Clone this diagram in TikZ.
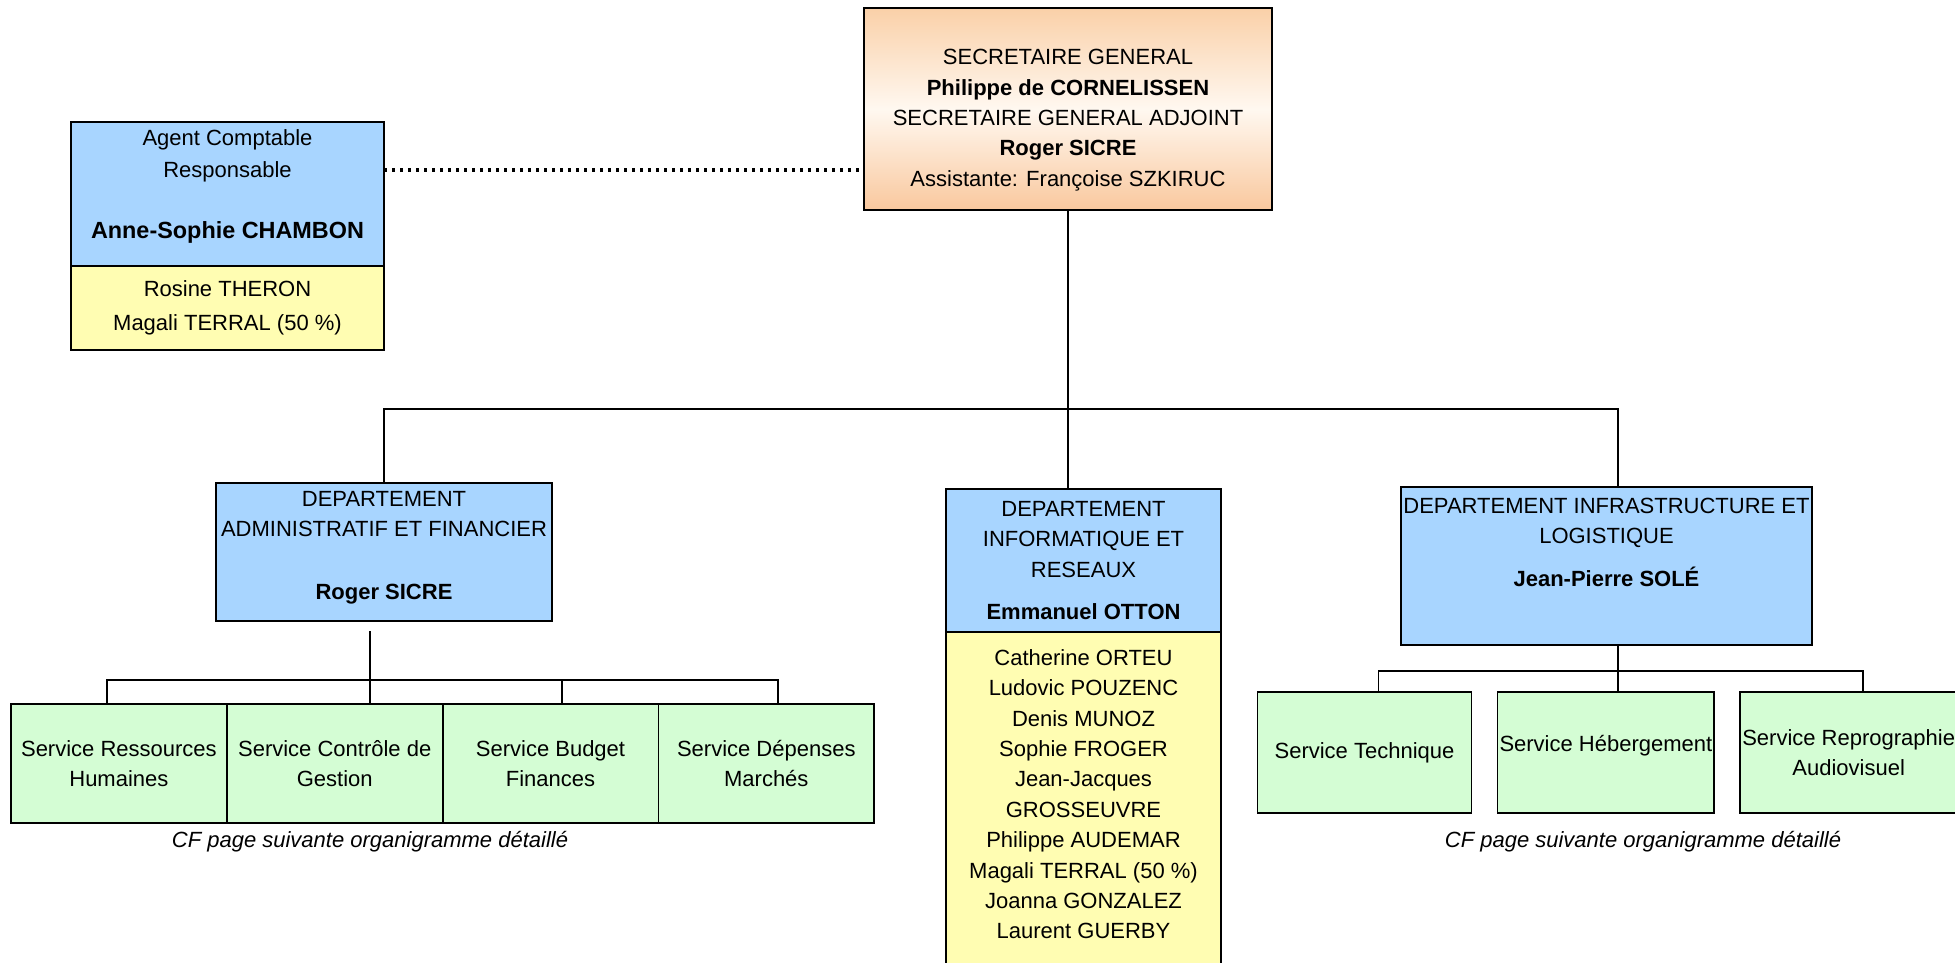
\documentclass[tikz,border=0pt]{standalone}
\usepackage{fontspec}
\setmainfont{Liberation Sans}
\usepackage{tikz}
\usetikzlibrary{positioning}
\definecolor{sgpeach}{RGB}{250, 208, 168}
\definecolor{sgdeep}{RGB}{249, 200, 158}
\definecolor{sglight}{RGB}{255, 248, 240}
\definecolor{deptblue}{RGB}{168, 213, 255}
\definecolor{staffyellow}{RGB}{255, 253, 178}
\definecolor{servgreen}{RGB}{212, 253, 212}

\begin{document}
\begin{tikzpicture}[x=0.5pt, y=-0.5pt,
  box/.style={draw, line width=0.9pt, outer sep=0pt, inner xsep=1pt, inner ysep=2pt, align=center, font=\fontsize{11}{15.2}\selectfont},
  dept/.style={box, fill=deptblue},
  staff/.style={box, fill=staffyellow},
  service/.style={box, fill=servgreen, minimum width=107.9pt},
  link/.style={line width=0.9pt},
  dots/.style={line width=1.7pt, dash pattern=on 1.7pt off 2.3pt},
  note/.style={font=\fontsize{11}{13}\selectfont\itshape}]
  \useasboundingbox (0,0) rectangle (1955,963);

  % Secretariat
  \node[box, top color=sgpeach, bottom color=sgdeep, middle color=sglight, minimum width=204pt, minimum height=101pt] (sg) at (1068,109) {\strut\\[-7pt]SECRETAIRE GENERAL\\\textbf{Philippe de CORNELISSEN}\\SECRETAIRE GENERAL ADJOINT\\\textbf{Roger SICRE}\\Assistante: Françoise SZKIRUC};

  % Agent comptable
  \node[dept, minimum width=156.5pt, minimum height=72pt] (agent) at (227.5,194) {Agent Comptable\\[0.8pt]Responsable\\[15.5pt]{\fontsize{11.7}{15.2}\selectfont\textbf{Anne-Sophie CHAMBON}}\\[-10pt]\strut};
  \node[staff, minimum width=156.5pt, minimum height=42pt] (agentstaff) at (227.5,308) {Rosine THERON\\[1.5pt]Magali TERRAL (50 \%)};
  \draw[dots] ([yshift=12pt]agent.east) -- ([yshift=12pt]agent.east -| sg.west);

  % Departements
  \node[dept, minimum width=168pt, minimum height=69pt] (daf) at (384,552) {DEPARTEMENT\\ADMINISTRATIF ET FINANCIER\\[16pt]\textbf{Roger SICRE}\\[-13pt]\strut};
  \node[dept, minimum width=137.5pt, minimum height=71.5pt] (dir) at (1083.5,560.5) {DEPARTEMENT\\INFORMATIQUE ET\\RESEAUX\\[6pt]\textbf{Emmanuel OTTON}};
  \node[staff, minimum width=137.5pt, minimum height=167pt] (dirstaff) at (1083.5,799) {Catherine ORTEU\\Ludovic POUZENC\\Denis MUNOZ\\Sophie FROGER\\Jean-Jacques\\GROSSEUVRE\\Philippe AUDEMAR\\Magali TERRAL (50 \%)\\Joanna GONZALEZ\\Laurent GUERBY\\[-14.8pt]\strut};
  \node[dept, minimum width=205.5pt, minimum height=79pt] (dil) at (1606.5,566) {DEPARTEMENT INFRASTRUCTURE ET\\LOGISTIQUE\\[6.5pt]\textbf{Jean-Pierre SOLÉ}\\[4pt]\strut};

  \coordinate (mainbus) at (1068,409);
  \draw[link] (sg.south) -- (sg.south |- dir.north);
  \draw[link] (daf.north) |- (mainbus) -| ([xshift=5.75pt]dil.north);

  % Services DAF
  \node[service, minimum height=59.5pt] (rh) at (118.9,763.5) {Service Ressources\\Humaines};
  \node[service, minimum height=59.5pt, right=0pt of rh] (controle) {Service Contrôle de\\Gestion};
  \node[service, minimum height=59.5pt, right=0pt of controle] (budget) {Service Budget\\Finances};
  \node[service, minimum height=59.5pt, right=0pt of budget] (marches) {Service Dépenses\\Marchés};
  \node[note] (cfdaf) at (370,842) {CF page suivante organigramme détaillé};

  \coordinate (dafbus) at (370,680);
  \draw[link] ([yshift=-5pt]daf.south -| dafbus) -- (dafbus |- controle.north);
  \draw[link] ([xshift=-6pt]rh.north) |- (dafbus);
  \draw[link] (dafbus) -| ([xshift=5.8pt]budget.north);
  \draw[link] (dafbus) -| ([xshift=6pt]marches.north);

  % Services DIL
  \node[service, minimum width=107pt, minimum height=60.5pt] (tech) at (1364.5,752.5) {Service Technique};
  \node[service, minimum width=107pt, minimum height=60.5pt, right=13pt of tech] (heberg) {Service Hébergement\\[-11pt]\strut};
  \node[service, minimum width=107pt, minimum height=60.5pt, right=13pt of heberg] (repro) {Service Reprographie\\Audiovisuel};
  \node[note] (cfdil) at (1643,842) {CF page suivante organigramme détaillé};

  \coordinate (dilbus) at (1618,671);
  \draw[link] (dil.south -| dilbus) -- (dilbus |- heberg.north);
  \draw[link] ([xshift=7pt]tech.north) |- (dilbus) -| ([xshift=7pt]repro.north);
\end{tikzpicture}
\end{document}
